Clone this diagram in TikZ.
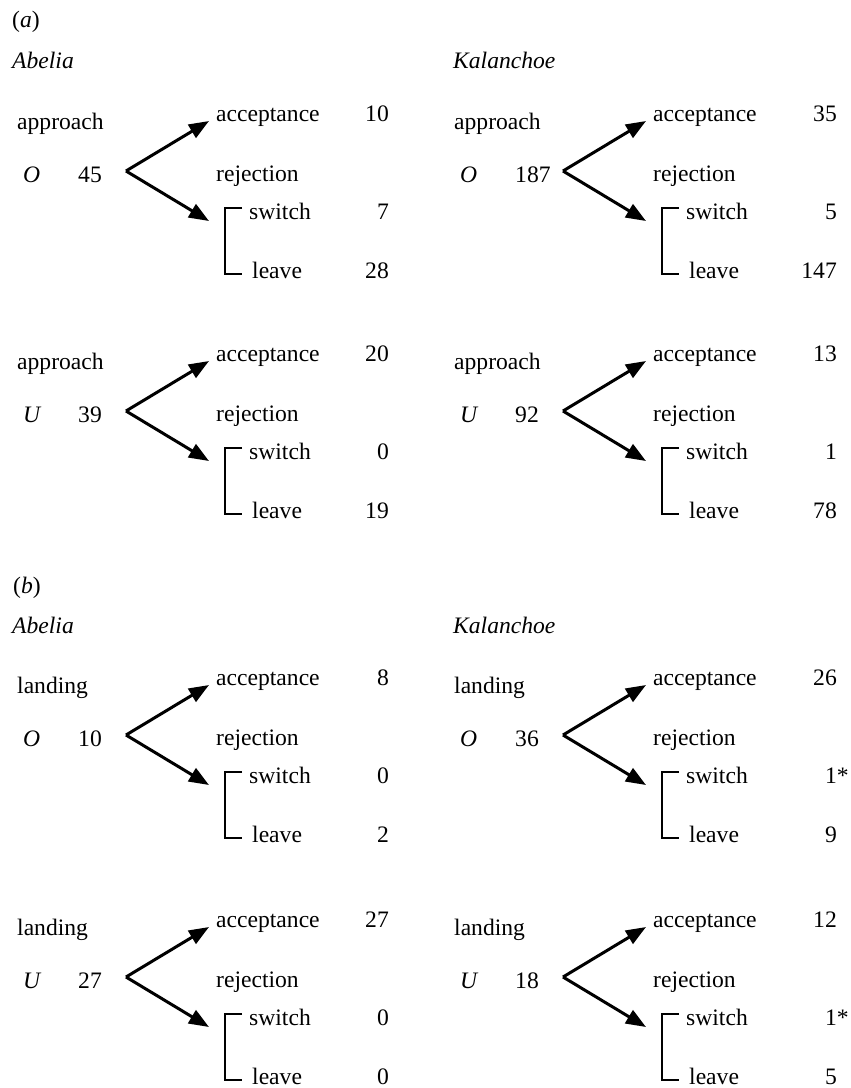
\documentclass[tikz,border=0pt]{standalone}
\usepackage{fontspec}
\setmainfont{Liberation Serif}
\usetikzlibrary{arrows.meta}
\begin{document}
\begin{tikzpicture}[
      x=1pt, y=-1pt,
      font=\fontsize{23.6}{28}\selectfont,
      txt/.style={anchor=base west, inner sep=0pt},
      num/.style={anchor=base east, inner sep=0pt},
      fleche/.style={line width=3pt, -{Triangle[length=20pt,width=15pt]}},
      crochet/.style={line width=2.5pt}
    ]
    \useasboundingbox (0,0) rectangle (851,1088);
    % titres
    \node[txt] (ta) at (12,27) {(\textit{a})};
    \node[txt] (abA) at (12,68) {\textit{Abelia}};
    \node[txt] (kaA) at (453,68) {\textit{Kalanchoe}};
    \node[txt] (tb) at (13,593) {(\textit{b})};
    \node[txt] (abB) at (12,633) {\textit{Abelia}};
    \node[txt] (kaB) at (453,633) {\textit{Kalanchoe}};
    % un bloc par fleur et par groupe
    \foreach \nom/\ax/\ay/\col/\act/\grp/\tot/\acc/\sw/\lv in {
        aAO/126/171/389/approach/O/45/10/7/28,
        aAU/126/411/389/approach/U/39/20/0/19,
        aKO/563/171/837/approach/O/187/35/5/147,
        aKU/563/411/837/approach/U/92/13/1/78,
        bAO/126/735/389/landing/O/10/8/0/2,
        bAU/126/977/389/landing/U/27/27/0/0,
        bKO/563/735/837/landing/O/36/26/1\rlap{*}/9,
        bKU/563/977/837/landing/U/18/12/1\rlap{*}/5}
    {
      \coordinate (\nom-x) at (\ax,\ay);
      \coordinate (\nom-t1) at ({\ax+83},{\ay-50});
      \coordinate (\nom-t2) at ({\ax+83},{\ay+50});
      \coordinate (\nom-c1) at ({\ax+116},{\ay+37});
      \coordinate (\nom-c2) at ({\ax+99},{\ay+37});
      \coordinate (\nom-c3) at ({\ax+99},{\ay+103});
      \coordinate (\nom-c4) at ({\ax+116},{\ay+103});
      \node[txt] (\nom-act) at ({\ax-109},{\ay-42}) {\act};
      \node[txt] (\nom-grp) at ({\ax-103},{\ay+11}) {\textit{\grp}};
      \node[txt] (\nom-tot) at ({\ax-48},{\ay+11}) {\tot};
      \node[txt] (\nom-acc) at ({\ax+90},{\ay-50}) {acceptance};
      \node[txt] (\nom-rej) at ({\ax+90},{\ay+10}) {rejection};
      \node[txt] (\nom-sw) at ({\ax+123},{\ay+48}) {switch};
      \node[txt] (\nom-lv) at ({\ax+126},{\ay+107}) {leave};
      \node[num] (\nom-nacc) at (\col,{\ay-50}) {\acc};
      \node[num] (\nom-nsw) at (\col,{\ay+48}) {\sw};
      \node[num] (\nom-nlv) at (\col,{\ay+107}) {\lv};
      \draw[fleche] (\nom-x) -- (\nom-t1);
      \draw[fleche] (\nom-x) -- (\nom-t2);
      \draw[crochet] (\nom-c1) -- (\nom-c2) -- (\nom-c3) -- (\nom-c4);
    }
  \end{tikzpicture}
\end{document}
